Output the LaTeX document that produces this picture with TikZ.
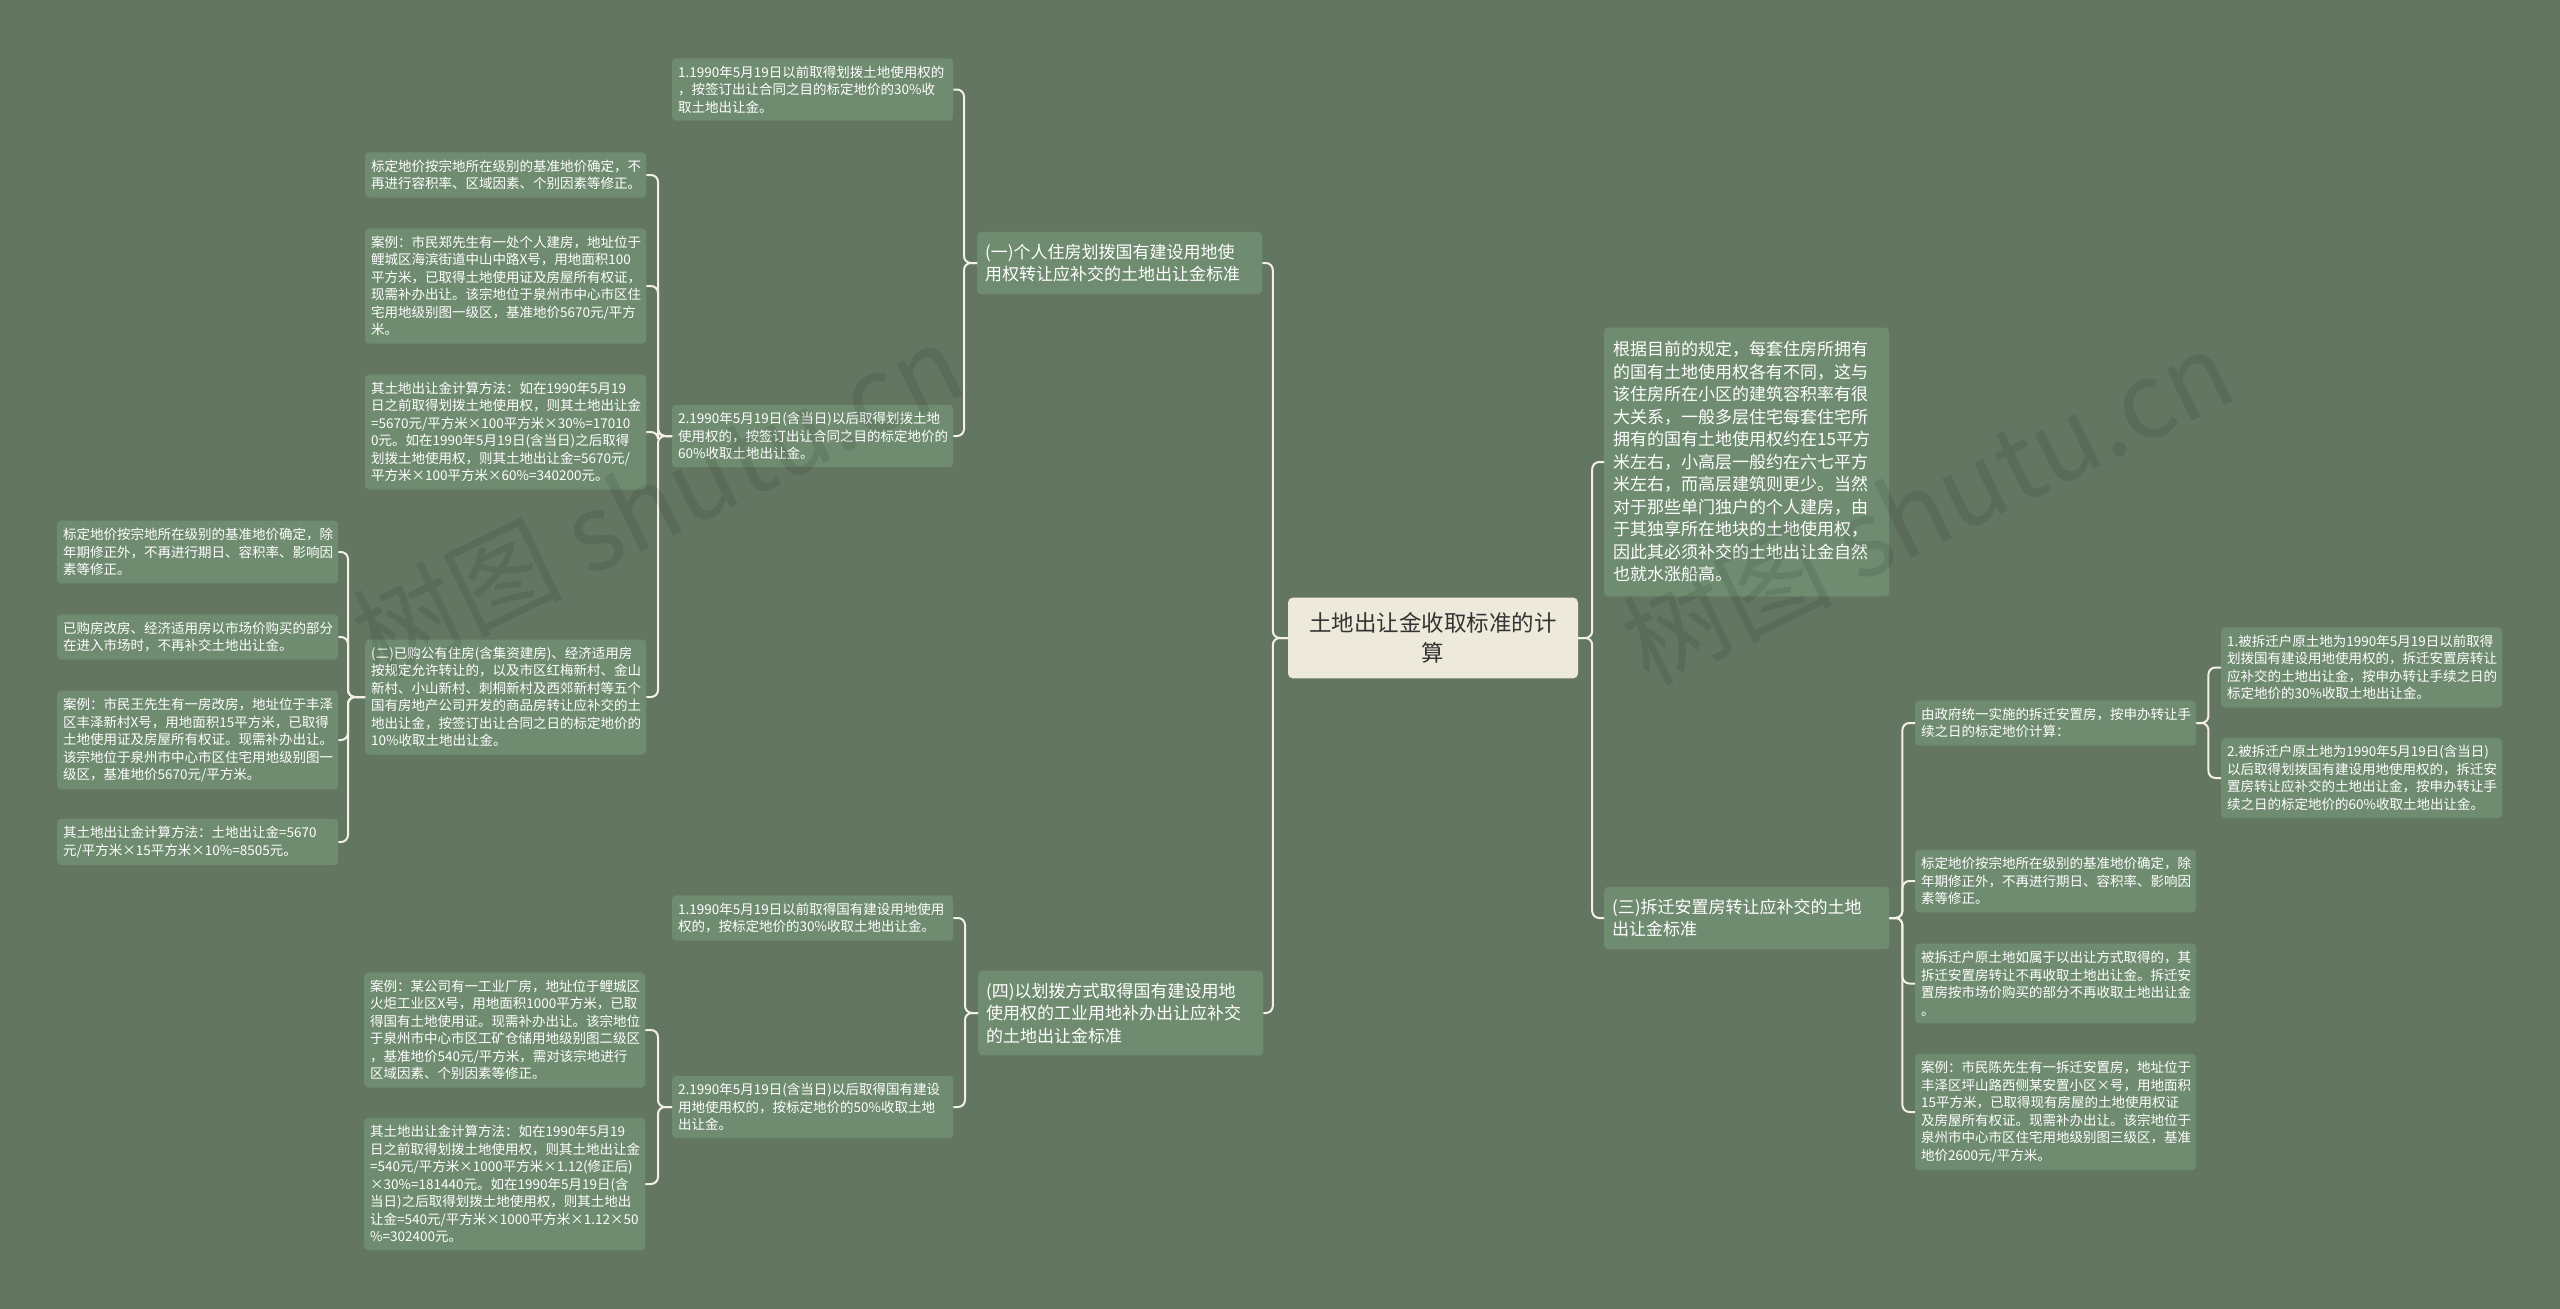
\documentclass[tikz,border=0pt]{standalone}
\usepackage{fontspec}
\setmainfont{Noto Sans CJK SC}

\definecolor{bg}{HTML}{637662}
\definecolor{leafgreen}{HTML}{6F8C70}
\definecolor{rootcream}{HTML}{EEEADB}
\definecolor{linkwhite}{HTML}{F3F1E6}

\begin{document}
\begin{tikzpicture}[x=1pt,y=-1pt,
  leaf/.style={fill=leafgreen,rounded corners=4pt,text=white,anchor=west,align=left,text width=269pt,inner xsep=6pt,inner ysep=7.5pt,font=\fontsize{13.5}{17.5}\selectfont},
  branch/.style={leaf,inner xsep=8pt,inner ysep=12pt,font=\fontsize{17}{22.5}\selectfont},
  topic/.style={fill=rootcream,rounded corners=5pt,text=black!80,align=center,text width=259pt,inner xsep=15.5pt,inner ysep=15pt,font=\fontsize{22.5}{30}\selectfont},
  link/.style={draw=linkwhite,line width=2pt,rounded corners=7pt}]
  \fill[bg] (0,0) rectangle (2560,1309);
  \useasboundingbox (0,0) rectangle (2560,1309);

  \node[topic] (root) at (1433,638) {土地出让金收取标准的计\\算};

  % left half
  \node[branch] (p1) at (977,263) {(一)个人住房划拨国有建设用地使\\用权转让应补交的土地出让金标准};
  \node[leaf] (p11) at (672,89.5) {1.1990年5月19日以前取得划拨土地使用权的\\，按签订出让合同之目的标定地价的30\%收\\取土地出让金。};
  \node[leaf] (p12) at (672,436) {2.1990年5月19日(含当日)以后取得划拨土地\\使用权的，按签订出让合同之目的标定地价的\\60\%收取土地出让金。};
  \node[leaf] (p121) at (365,175) {标定地价按宗地所在级别的基准地价确定，不\\再进行容积率、区域因素、个别因素等修正。};
  \node[leaf] (p122) at (365,286) {案例：市民郑先生有一处个人建房，地址位于\\鲤城区海滨街道中山中路X号，用地面积100\\平方米，已取得土地使用证及房屋所有权证，\\现需补办出让。该宗地位于泉州市中心市区住\\宅用地级别图一级区，基准地价5670元/平方\\米。};
  \node[leaf] (p123) at (365,432) {其土地出让金计算方法：如在1990年5月19\\日之前取得划拨土地使用权，则其土地出让金\\=5670元/平方米×100平方米×30\%=17010\\0元。如在1990年5月19日(含当日)之后取得\\划拨土地使用权，则其土地出让金=5670元/\\平方米×100平方米×60\%=340200元。};
  \node[leaf] (p124) at (365,697) {(二)已购公有住房(含集资建房)、经济适用房\\按规定允许转让的，以及市区红梅新村、金山\\新村、小山新村、刺桐新村及西郊新村等五个\\国有房地产公司开发的商品房转让应补交的土\\地出让金，按签订出让合同之日的标定地价的\\10\%收取土地出让金。};
  \node[leaf] (p1241) at (57,552) {标定地价按宗地所在级别的基准地价确定，除\\年期修正外，不再进行期日、容积率、影响因\\素等修正。};
  \node[leaf] (p1242) at (57,637) {已购房改房、经济适用房以市场价购买的部分\\在进入市场时，不再补交土地出让金。};
  \node[leaf] (p1243) at (57,740) {案例：市民王先生有一房改房，地址位于丰泽\\区丰泽新村X号，用地面积15平方米，已取得\\土地使用证及房屋所有权证。现需补办出让。\\该宗地位于泉州市中心市区住宅用地级别图一\\级区，基准地价5670元/平方米。};
  \node[leaf] (p1244) at (57,842) {其土地出让金计算方法：土地出让金=5670\\元/平方米×15平方米×10\%=8505元。};

  \node[branch] (p4) at (978,1013) {(四)以划拨方式取得国有建设用地\\使用权的工业用地补办出让应补交\\的土地出让金标准};
  \node[leaf] (p41) at (672,918) {1.1990年5月19日以前取得国有建设用地使用\\权的，按标定地价的30\%收取土地出让金。};
  \node[leaf] (p42) at (672,1107) {2.1990年5月19日(含当日)以后取得国有建设\\用地使用权的，按标定地价的50\%收取土地\\出让金。};
  \node[leaf] (p421) at (364,1030) {案例：某公司有一工业厂房，地址位于鲤城区\\火炬工业区X号，用地面积1000平方米，已取\\得国有土地使用证。现需补办出让。该宗地位\\于泉州市中心市区工矿仓储用地级别图二级区\\，基准地价540元/平方米，需对该宗地进行\\区域因素、个别因素等修正。};
  \node[leaf] (p422) at (364,1184) {其土地出让金计算方法：如在1990年5月19\\日之前取得划拨土地使用权，则其土地出让金\\=540元/平方米×1000平方米×1.12(修正后)\\×30\%=181440元。如在1990年5月19日(含\\当日)之后取得划拨土地使用权，则其土地出\\让金=540元/平方米×1000平方米×1.12×50\\\%=302400元。};

  % right half
  \node[branch,inner xsep=9pt,inner ysep=14pt,text width=267pt] (p2) at (1604,462) {根据目前的规定，每套住房所拥有\\的国有土地使用权各有不同，这与\\该住房所在小区的建筑容积率有很\\大关系，一般多层住宅每套住宅所\\拥有的国有土地使用权约在15平方\\米左右，小高层一般约在六七平方\\米左右，而高层建筑则更少。当然\\对于那些单门独户的个人建房，由\\于其独享所在地块的土地使用权，\\因此其必须补交的土地出让金自然\\也就水涨船高。};
  \node[branch] (p3) at (1604,918) {(三)拆迁安置房转让应补交的土地\\出让金标准};
  \node[leaf] (p31) at (1915,723) {由政府统一实施的拆迁安置房，按申办转让手\\续之日的标定地价计算：};
  \node[leaf] (p311) at (2221,667.5) {1.被拆迁户原土地为1990年5月19日以前取得\\划拨国有建设用地使用权的，拆迁安置房转让\\应补交的土地出让金，按申办转让手续之日的\\标定地价的30\%收取土地出让金。};
  \node[leaf] (p312) at (2221,778) {2.被拆迁户原土地为1990年5月19日(含当日)\\以后取得划拨国有建设用地使用权的，拆迁安\\置房转让应补交的土地出让金，按申办转让手\\续之日的标定地价的60\%收取土地出让金。};
  \node[leaf] (p32) at (1915,881) {标定地价按宗地所在级别的基准地价确定，除\\年期修正外，不再进行期日、容积率、影响因\\素等修正。};
  \node[leaf] (p33) at (1915,983.5) {被拆迁户原土地如属于以出让方式取得的，其\\拆迁安置房转让不再收取土地出让金。拆迁安\\置房按市场价购买的部分不再收取土地出让金\\。};
  \node[leaf] (p34) at (1915,1112) {案例：市民陈先生有一拆迁安置房，地址位于\\丰泽区坪山路西侧某安置小区×号，用地面积\\15平方米，已取得现有房屋的土地使用权证\\及房屋所有权证。现需补办出让。该宗地位于\\泉州市中心市区住宅用地级别图三级区，基准\\地价2600元/平方米。};

  % connectors
  \foreach \c in {p1,p4} \draw[link] (root.west) -- ++(-15,0) |- (\c.east);
  \foreach \c in {p2,p3} \draw[link] (root.east) -- ++(14,0) |- (\c.west);
  \foreach \c in {p11,p12} \draw[link] (p1.west) -- ++(-13,0) |- (\c.east);
  \foreach \c in {p121,p122,p123,p124} \draw[link] (p12.west) -- ++(-14,0) |- (\c.east);
  \foreach \c in {p1241,p1242,p1243,p1244} \draw[link] (p124.west) -- ++(-17,0) |- (\c.east);
  \foreach \c in {p41,p42} \draw[link] (p4.west) -- ++(-13,0) |- (\c.east);
  \foreach \c in {p421,p422} \draw[link] (p42.west) -- ++(-14,0) |- (\c.east);
  \foreach \c in {p31,p32,p33,p34} \draw[link] (p3.east) -- ++(13,0) |- (\c.west);
  \foreach \c in {p311,p312} \draw[link] (p31.east) -- ++(12,0) |- (\c.west);

  % watermark
  \node[rotate=26,text=black,opacity=0.09,font=\fontsize{105}{105}\selectfont] (markleft) at (657,500) {树图 shutu.cn};
  \node[rotate=26,text=black,opacity=0.09,font=\fontsize{105}{105}\selectfont] (markright) at (1927,506) {树图 shutu.cn};
\end{tikzpicture}
\end{document}
